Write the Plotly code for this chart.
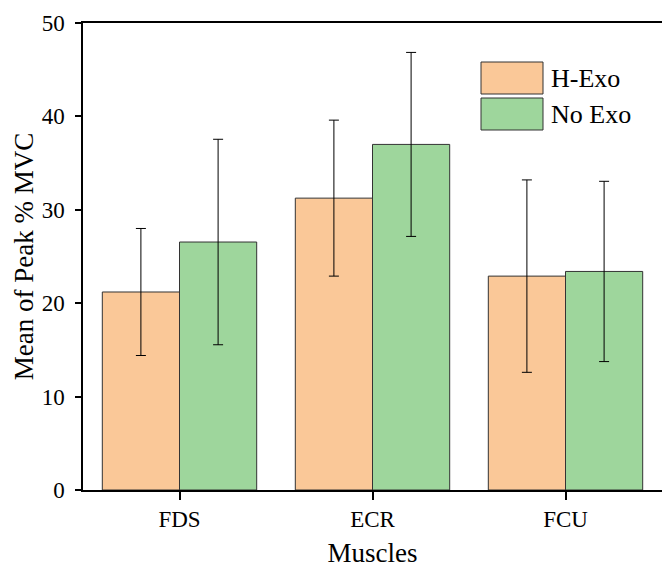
import plotly.graph_objects as go

categories = ["FDS", "ECR", "FCU"]
h_exo = [21.2, 31.25, 22.9]
h_exo_err = [6.8, 8.35, 10.3]
no_exo = [26.55, 37.0, 23.4]
no_exo_err = [11.0, 9.85, 9.65]
series_names = ["H-Exo", "No Exo"]
colors = ["#FAC898", "#9ED69C"]

FONT = "Times New Roman"

fig = go.Figure()
for name, vals, errs, col in [(series_names[0], h_exo, h_exo_err, colors[0]),
                              (series_names[1], no_exo, no_exo_err, colors[1])]:
    fig.add_trace(go.Bar(
        x=categories, y=vals, name=name,
        marker=dict(color=col, line=dict(color="#333333", width=1)),
        error_y=dict(type="data", array=errs, visible=True, color="#000000",
                     thickness=1, width=5),
        showlegend=False,
    ))

def px_to_paper_x(px):
    return (px - 83) / (662 - 83)

def px_to_paper_y(py):
    return (490 - py) / (490 - 23)

boxes = [(62, 94), (98, 130)]
for (top, bot), col, name in zip(boxes, colors, series_names):
    fig.add_shape(type="rect", xref="paper", yref="paper",
                  x0=px_to_paper_x(481), x1=px_to_paper_x(543),
                  y0=px_to_paper_y(bot), y1=px_to_paper_y(top),
                  fillcolor=col, line=dict(color="#333333", width=1))
    fig.add_annotation(xref="paper", yref="paper",
                       x=px_to_paper_x(549), y=px_to_paper_y((top + bot) / 2),
                       text=name, showarrow=False, xanchor="left", yanchor="middle",
                       font=dict(family=FONT, size=26, color="#000000"))

fig.update_layout(
    width=662, height=568,
    margin=dict(l=83, r=0, t=23, b=78),
    plot_bgcolor="white", paper_bgcolor="white",
    barmode="group", bargap=0.2, bargroupgap=0,
    font=dict(family=FONT, color="#000000"),
    xaxis=dict(
        range=[-0.5, 2.5],
        showline=True, linecolor="#000000", linewidth=1.5, mirror=True,
        ticks="outside", ticklen=8, tickwidth=1.5, tickcolor="#000000",
        tickfont=dict(family=FONT, size=23, color="#000000"),
        title=dict(text="Muscles", font=dict(family=FONT, size=27, color="#000000"), standoff=18),
        showgrid=False, zeroline=False,
    ),
    yaxis=dict(
        range=[0, 50], tickvals=[0, 10, 20, 30, 40, 50],
        showline=True, linecolor="#000000", linewidth=1.5,
        ticks="outside", ticklen=6, tickwidth=1.5, tickcolor="#000000",
        ticklabelstandoff=6,
        tickfont=dict(family=FONT, size=23, color="#000000"),
        title=dict(text="Mean of Peak % MVC", font=dict(family=FONT, size=27, color="#000000"), standoff=0),
        showgrid=False, zeroline=False,
    ),
)

fig.write_html("out.html")
